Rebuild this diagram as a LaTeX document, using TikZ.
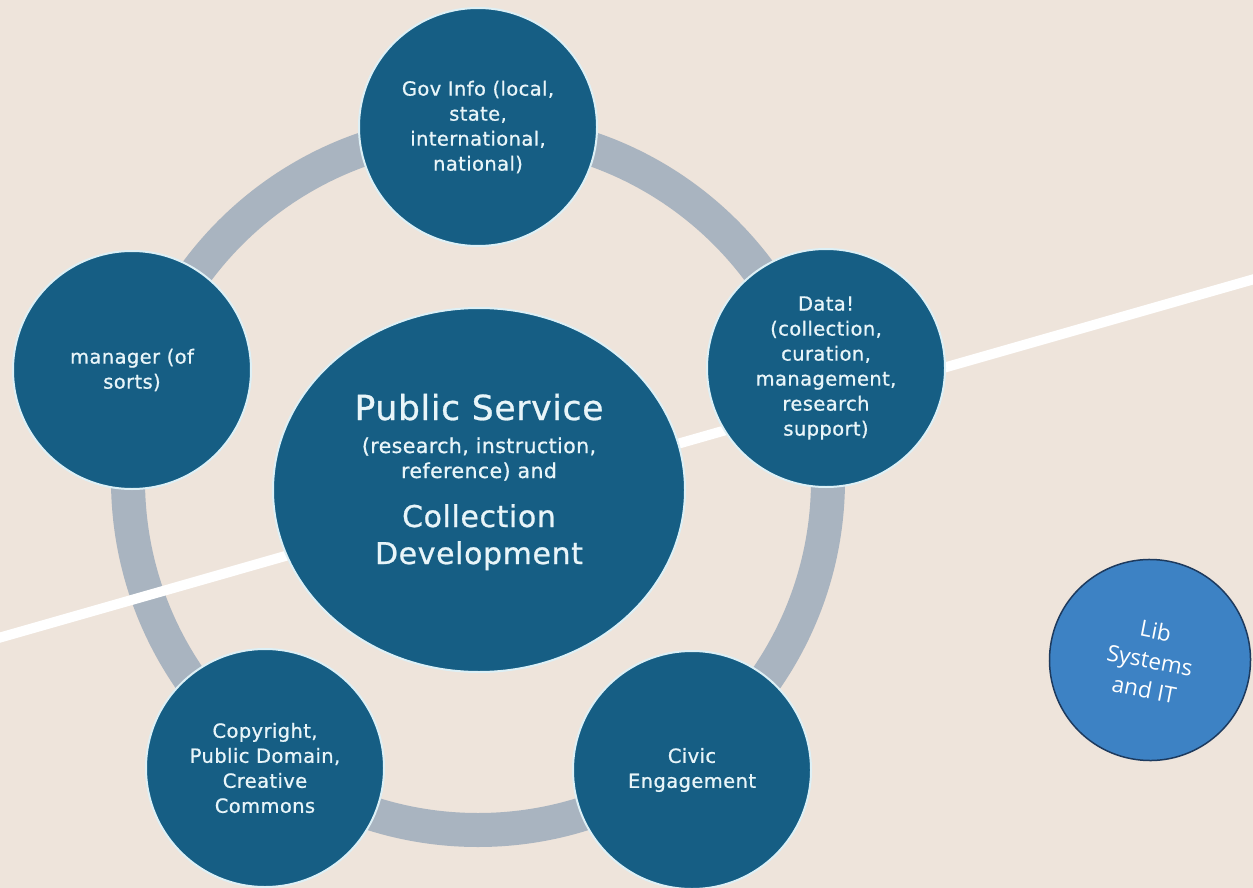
\documentclass[tikz,border=0pt]{standalone}
\usepackage{fontspec}
\usetikzlibrary{shapes.geometric}
\newfontfamily\topicfont{DejaVu Sans}[LetterSpace=2.0,FakeBold=0.8]
\newfontfamily\libfont{Open Sans}
\definecolor{bg}{HTML}{EEE4DB}
\definecolor{ringc}{HTML}{A9B4C0}
\definecolor{nodec}{HTML}{165E84}
\definecolor{edgec}{HTML}{DDF0F6}
\definecolor{txtc}{HTML}{E8F5F9}
\definecolor{libfill}{HTML}{3D82C4}
\definecolor{libedge}{HTML}{1D3A5E}
\begin{document}
\begin{tikzpicture}[x=1pt,y=-1pt,
  topic/.style={circle, fill=nodec, draw=edgec, line width=2pt, minimum size=238pt,
    inner sep=0pt, align=center, text=txtc, font=\topicfont\fontsize{19.5}{25}\selectfont},
  coretxt/.style={anchor=base, text=txtc, inner sep=0pt},
  libc/.style={circle, fill=libfill, draw=libedge, line width=1.5pt, minimum size=201pt,
    inner sep=0pt, align=center, text=white, font=\libfont\fontsize{22.5}{30}\selectfont}
]
\fill[bg] (0,0) rectangle (1253,888);
\useasboundingbox (0,0) rectangle (1253,888);
% ring
\draw[ringc, line width=34pt] (478,480) circle[radius=350];
% white line
\coordinate (wl) at (-5,639);
\coordinate (wr) at (1258,278);
\draw[white, line width=10pt] (wl) -- (wr);
% core
\node[ellipse, fill=nodec, draw=edgec, line width=2pt, minimum width=412pt, minimum height=364pt, inner sep=0pt] (core) at (479,490) {};
\node[coretxt, font=\topicfont\fontsize{34.5}{40}\selectfont] (ps) at (479,420) {Public Service};
\node[coretxt, font=\topicfont\fontsize{20.5}{25}\selectfont] (ri) at (479,453) {(research, instruction,};
\node[coretxt, font=\topicfont\fontsize{20.5}{25}\selectfont] (ra) at (479,478) {reference) and};
\node[coretxt, font=\topicfont\fontsize{30}{36}\selectfont] (cl) at (479,527) {Collection};
\node[coretxt, font=\topicfont\fontsize{30}{36}\selectfont] (dv) at (479,564) {Development};
% outer topics
\node[topic] (gov) at (478,127) {Gov Info (local,\\state,\\international,\\national)};
\node[topic] (data) at (826,368) {Data!\\(collection,\\curation,\\management,\\research\\support)};
\node[topic] (mgr) at (132,370) {manager (of\\sorts)};
\node[topic] (copy) at (265,768) {Copyright,\\Public Domain,\\Creative\\Commons};
\node[topic] (civic) at (692,770) {Civic\\Engagement};
% lib systems
\node[libc, rotate=-11] (lib) at (1150,660) {Lib\\Systems\\and IT};
\end{tikzpicture}
\end{document}
